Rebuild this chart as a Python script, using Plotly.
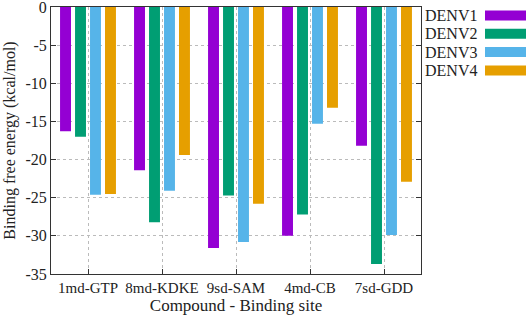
import plotly.graph_objects as go

categories = ["1md-GTP", "8md-KDKE", "9sd-SAM", "4md-CB", "7sd-GDD"]
series_names = ["DENV1", "DENV2", "DENV3", "DENV4"]
denv1 = [-16.3, -21.4, -31.6, -30.0, -18.2]
denv2 = [-17.0, -28.2, -24.7, -27.2, -33.7]
denv3 = [-24.6, -24.1, -30.8, -15.3, -29.9]
denv4 = [-24.5, -19.4, -25.8, -13.2, -22.9]
y_ticks = [0, -5, -10, -15, -20, -25, -30, -35]
colors = ["#9400D3", "#009E73", "#56B4E9", "#E69F00"]

FONT = "Liberation Serif"
fig = go.Figure()
for name, vals, c in zip(series_names, [denv1, denv2, denv3, denv4], colors):
    fig.add_trace(go.Bar(x=categories, y=vals, name=name, marker=dict(color=c, line=dict(width=0)),
                         showlegend=False))

PH = 267
# manual legend: text left, swatch right
for i, (name, c) in enumerate(zip(series_names, colors)):
    ypos = 1 - (15.5 + i * 18.3 - 7) / PH
    fig.add_annotation(x=(423 - 51) / 370, y=ypos, xref="paper", yref="paper", text=name, showarrow=False,
                       xanchor="left", yanchor="middle", font=dict(family=FONT, size=16, color="#222"))
    fig.add_shape(type="rect", xref="paper", yref="paper",
                  x0=(485 - 51) / 370, x1=(526 - 51) / 370,
                  y0=ypos - 5 / PH, y1=ypos + 5 / PH, fillcolor=c, line=dict(width=0))

fig.update_layout(
    width=526, height=321,
    margin=dict(l=51, r=105, t=7, b=47),
    paper_bgcolor="white", plot_bgcolor="white",
    barmode="group", bargap=0.19, bargroupgap=0.27,
    font=dict(family=FONT, size=14, color="#222"),
    showlegend=False,
)
fig.update_xaxes(
    automargin=False,
    showline=True, linecolor="#333", linewidth=1, mirror=True,
    ticks="inside", ticklen=5, tickcolor="#333",
    showgrid=True, gridcolor="#bbb", griddash="dot", gridwidth=1,
    tickfont=dict(family=FONT, size=15),
    ticklabeloverflow="allow",
    title=dict(text="Compound - Binding site", font=dict(family=FONT, size=17), standoff=4),
    range=[-0.5, 4.5],
)
fig.update_yaxes(
    automargin=False,
    range=[-35, 0], tickvals=y_ticks, ticktext=[str(v) for v in y_ticks],
    showline=True, linecolor="#333", linewidth=1, mirror="ticks",
    ticks="inside", ticklen=5, tickcolor="#333",
    showgrid=True, gridcolor="#bbb", griddash="dot", gridwidth=1,
    zeroline=False,
    tickfont=dict(family=FONT, size=16),
    ticklabeloverflow="allow",
    title=dict(text="Binding free energy (kcal/mol)", font=dict(family=FONT, size=16), standoff=5),
)
fig.write_html("out.html", config={"displayModeBar": False},
               post_script="document.body.style.margin='0';document.body.style.overflow='hidden';")
